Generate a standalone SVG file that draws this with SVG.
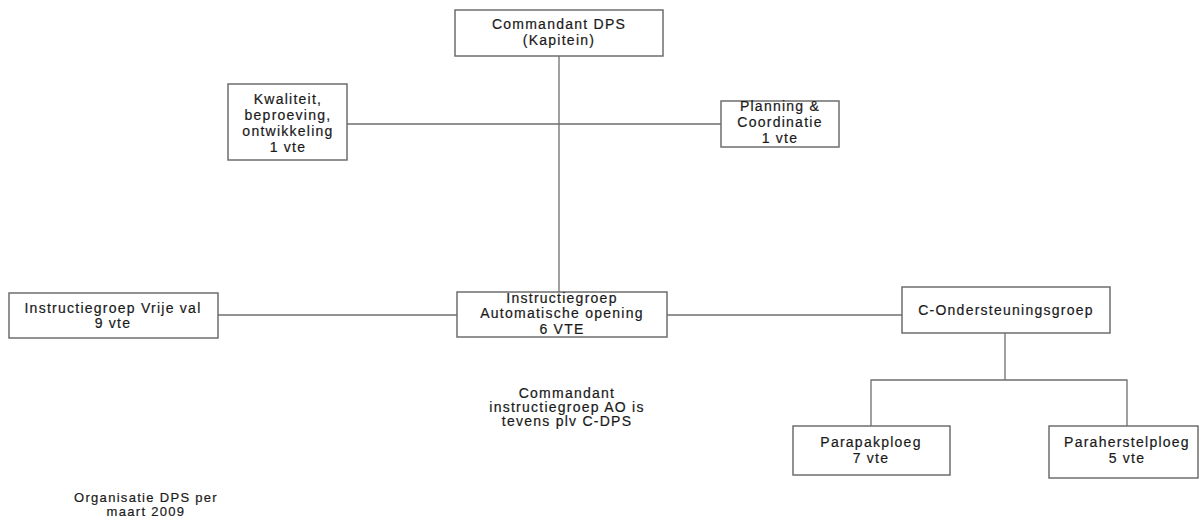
<svg xmlns="http://www.w3.org/2000/svg" width="1200" height="521" viewBox="0 0 1200 521">
<style>
.box{fill:#fff;stroke:#6e6e6e;stroke-width:1.5}
.ln{fill:none;stroke:#6e6e6e;stroke-width:1.3}
text{font-family:"Liberation Sans",Arial,sans-serif;font-size:14px;letter-spacing:1.25px;fill:#1a1a1a;text-anchor:middle;stroke:#1a1a1a;stroke-width:0.2}
.cap{font-size:13px;letter-spacing:1.3px}
</style>
<rect width="1200" height="521" fill="#fff"/>
<g id="connectors">
<line class="ln" x1="559" y1="56" x2="559" y2="292"/>
<line class="ln" x1="347" y1="124" x2="721" y2="124"/>
<line class="ln" x1="218" y1="315" x2="457" y2="315"/>
<line class="ln" x1="667" y1="315" x2="902" y2="315"/>
<line class="ln" x1="1005" y1="333" x2="1005" y2="380"/>
<polyline class="ln" points="871,426 871,380 1127,380 1127,426"/>
</g>
<g id="cmd">
<rect class="box" x="455" y="10" width="208" height="46"/>
<text x="559" y="29">Commandant DPS</text>
<text x="559" y="45">(Kapitein)</text>
</g>
<g id="kwaliteit">
<rect class="box" x="228" y="84" width="119" height="76"/>
<text x="288" y="104">Kwaliteit,</text>
<text x="288" y="120">beproeving,</text>
<text x="288" y="136">ontwikkeling</text>
<text x="288" y="152">1 vte</text>
</g>
<g id="planning">
<rect class="box" x="721" y="101" width="118" height="46"/>
<text x="780" y="111">Planning &amp;</text>
<text x="780" y="127">Coordinatie</text>
<text x="780" y="143">1 vte</text>
</g>
<g id="vrijeval">
<rect class="box" x="9" y="293" width="209" height="45"/>
<text x="113" y="313">Instructiegroep Vrije val</text>
<text x="113" y="328">9 vte</text>
</g>
<g id="ao">
<rect class="box" x="457" y="292" width="210" height="45"/>
<text x="562" y="303">Instructiegroep</text>
<text x="562" y="318">Automatische opening</text>
<text x="562" y="334">6 VTE</text>
</g>
<g id="cond">
<rect class="box" x="902" y="287" width="208" height="46"/>
<text x="1006" y="315">C-Ondersteuningsgroep</text>
</g>
<g id="parapak">
<rect class="box" x="793" y="426" width="157" height="49"/>
<text x="871" y="447">Parapakploeg</text>
<text x="871" y="463">7 vte</text>
</g>
<g id="paraherstel">
<rect class="box" x="1049" y="426" width="149" height="52"/>
<text x="1127" y="447">Paraherstelploeg</text>
<text x="1127" y="463">5 vte</text>
</g>
<g id="note">
<text x="567" y="398">Commandant</text>
<text x="567" y="412">instructiegroep AO is</text>
<text x="567" y="426">tevens plv C-DPS</text>
</g>
<g id="caption">
<text class="cap" x="146" y="502">Organisatie DPS per</text>
<text class="cap" x="146" y="516">maart 2009</text>
</g>
</svg>
